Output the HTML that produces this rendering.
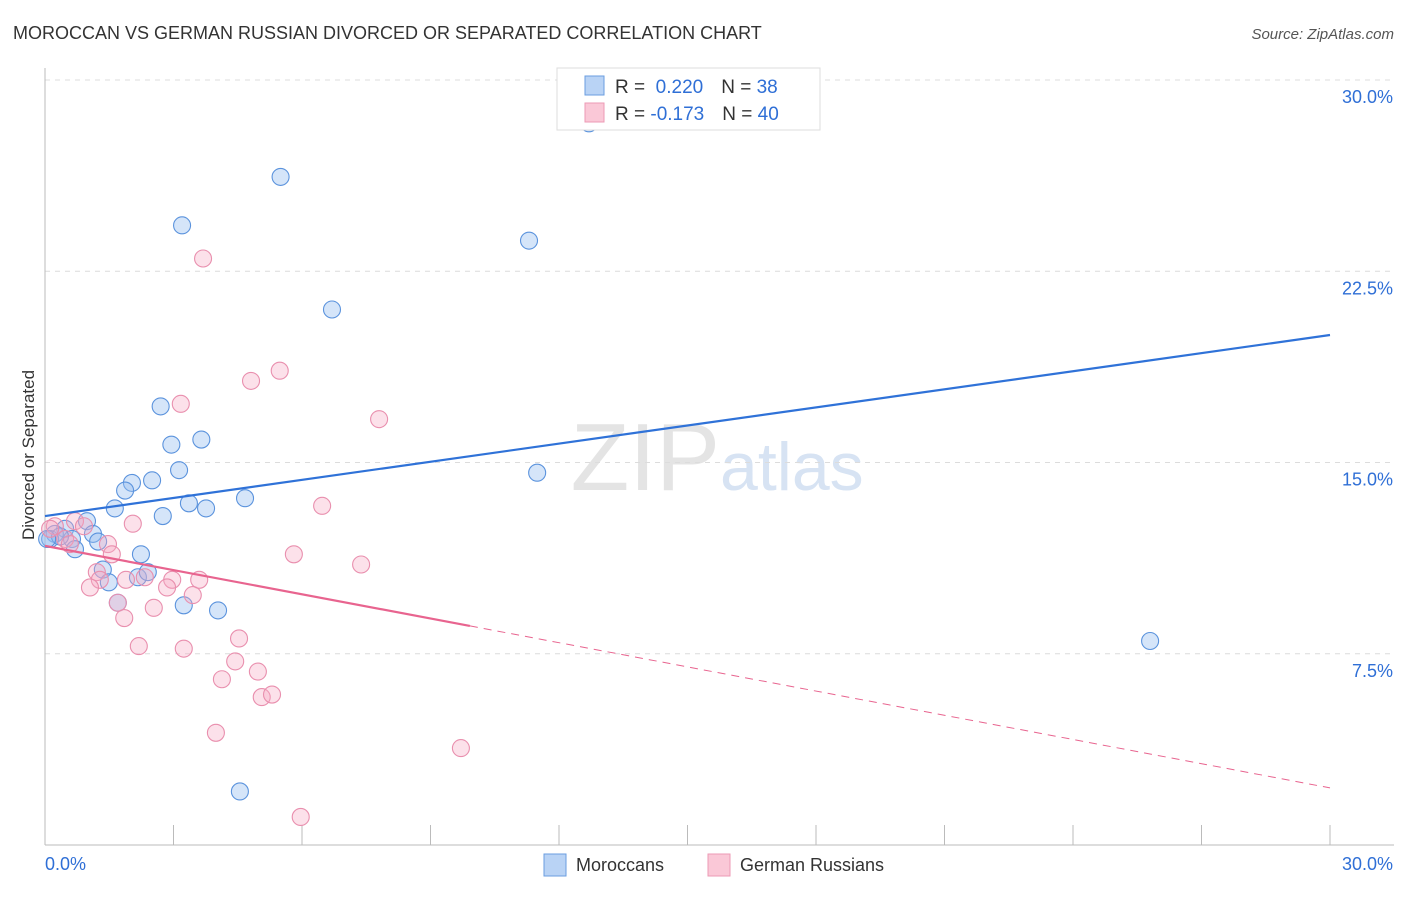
<!DOCTYPE html>
<html><head><meta charset="utf-8"><style>
body{margin:0;background:#fff;font-family:"Liberation Sans",sans-serif;}
svg text{font-family:"Liberation Sans",sans-serif;}
</style></head><body>
<svg id="chart" width="1406" height="892" xmlns="http://www.w3.org/2000/svg">
<text x="13" y="39" font-size="18" fill="#333">MOROCCAN VS GERMAN RUSSIAN DIVORCED OR SEPARATED CORRELATION CHART</text>
<text x="1394" y="39" font-size="15" fill="#555" text-anchor="end" font-style="italic">Source: ZipAtlas.com</text>
<text x="720" y="490" font-size="96" fill="#e4e4e4" text-anchor="end" font-family="Liberation Serif">ZIP</text>
<text x="720" y="490" font-size="68" fill="#d7e3f3">atlas</text>
<g id="grid"></g>
<g id="axes"></g>
<g id="pts"></g>
<g id="lines"></g>
<text transform="translate(34,455) rotate(-90)" font-size="17" fill="#333" text-anchor="middle">Divorced or Separated</text>
<g>
<rect x="557" y="68" width="263" height="62" fill="#fff" stroke="#ddd"/>
<rect x="585" y="76" width="19" height="19" fill="#b9d3f5" stroke="#6a9ee0"/>
<rect x="585" y="103" width="19" height="19" fill="#fac8d7" stroke="#ec9ab4"/>
<text x="615" y="93" font-size="19" fill="#333">R = <tspan fill="#2f6fd6">&#160;0.220</tspan><tspan dx="18">N = </tspan><tspan fill="#2f6fd6"> 38</tspan></text>
<text x="615" y="120" font-size="19" fill="#333">R = <tspan fill="#2f6fd6">-0.173</tspan><tspan dx="18">N = </tspan><tspan fill="#2f6fd6"> 40</tspan></text>
</g>
<g>
<rect x="544" y="854" width="22" height="22" fill="#b9d3f5" stroke="#6a9ee0"/>
<text x="576" y="871" font-size="18" fill="#333">Moroccans</text>
<rect x="708" y="854" width="22" height="22" fill="#fac8d7" stroke="#ec9ab4"/>
<text x="740" y="871" font-size="18" fill="#333">German Russians</text>
</g>
</svg>
<script>
const yTicks=[7.5,15,22.5,30];
const yTickLabels=["7.5%","15.0%","22.5%","30.0%"];
const xTicks=[0,3,6,9,12,15,18,21,24,27,30];
const xTickLabels=["0.0%","30.0%"];
const moroccanX=[12.7,5.5,3.2,11.3,6.7,2.7,2.95,3.65,3.13,2.5,2.03,1.87,1.63,3.36,3.76,4.67,2.75,0.98,0.47,0.23,0.12,0.63,1.12,1.24,0.7,2.24,1.35,1.49,2.17,2.4,1.7,3.24,4.04,11.49,25.8,4.55,0.35,0.05];
const moroccanY=[28.3,26.2,24.3,23.7,21.0,17.2,15.7,15.9,14.7,14.3,14.2,13.9,13.2,13.4,13.2,13.6,12.9,12.7,12.4,12.2,12.0,12.0,12.2,11.9,11.6,11.4,10.8,10.3,10.5,10.7,9.5,9.4,9.2,14.6,8.0,2.1,12.1,12.0];
const germanX=[3.69,5.48,4.81,3.17,7.8,6.47,2.05,0.7,0.23,1.47,1.56,5.81,7.38,1.21,1.28,1.05,1.89,2.97,2.85,3.6,3.45,2.33,2.54,1.7,1.85,4.53,2.19,3.24,4.44,4.97,4.13,5.06,5.3,3.99,9.71,5.97,0.12,0.47,0.91,0.58];
const germanY=[23.0,18.6,18.2,17.3,16.7,13.3,12.6,12.7,12.5,11.8,11.4,11.4,11.0,10.7,10.4,10.1,10.4,10.4,10.1,10.4,9.8,10.5,9.3,9.5,8.9,8.1,7.8,7.7,7.2,6.8,6.5,5.8,5.9,4.4,3.8,1.1,12.4,12.0,12.5,11.8];
const trendStartX=[0,0];
const trendEndX=[30,30];
const trendStartY=[12.9,11.73];
const trendEndY=[20.0,2.24];
const solidEndX=9.92;
const NS="http://www.w3.org/2000/svg";
const X0=45,X1=1330,YB=845,YT=80;
const sx=v=>X0+(v/30)*(X1-X0);
const sy=v=>YB-(v/30)*(YB-YT);
function mk(tag,attrs,parent){const e=document.createElementNS(NS,tag);for(const k in attrs)e.setAttribute(k,attrs[k]);parent.appendChild(e);return e;}
const grid=document.getElementById('grid'),axes=document.getElementById('axes'),pts=document.getElementById('pts'),lines=document.getElementById('lines');
yTicks.forEach((t,i)=>{
 const l=mk('line',{x1:X0,x2:1394,y1:sy(t),y2:sy(t),stroke:'#dcdcdc','stroke-dasharray':'5,5'},grid);
 
 
 const tx=mk('text',{x:1393,y:sy(t)+23,'font-size':18,fill:'#2f6fd6','text-anchor':'end'},axes);
 tx.textContent=yTickLabels[i];
 
 
});
const ax=mk('line',{x1:X0,x2:X0,y1:68,y2:YB,stroke:'#bbb'},axes);


const bx=mk('line',{x1:X0,x2:1394,y1:YB,y2:YB,stroke:'#bbb'},axes);


xTicks.forEach(t=>{
 const l=mk('line',{x1:sx(t),x2:sx(t),y1:825,y2:YB,stroke:'#bbb'},axes);
 
 
});
const xl0=mk('text',{x:45,y:870,'font-size':18,fill:'#2f6fd6'},axes);
xl0.textContent=xTickLabels[0];


const xl1=mk('text',{x:1393,y:870,'font-size':18,fill:'#2f6fd6','text-anchor':'end'},axes);
xl1.textContent=xTickLabels[1];


moroccanX.forEach((x,i)=>{
 const c=mk('circle',{cx:sx(x),cy:sy(moroccanY[i]),r:8.5,fill:'rgba(150,190,240,0.4)',stroke:'#5b93dd','stroke-width':1.1},pts);
 
 
});
germanX.forEach((x,i)=>{
 const c=mk('circle',{cx:sx(x),cy:sy(germanY[i]),r:8.5,fill:'rgba(245,170,195,0.35)',stroke:'#e98fae','stroke-width':1.1},pts);
 
 
});
const lineY=(i,x)=>trendStartY[i]+(trendEndY[i]-trendStartY[i])*(x-trendStartX[i])/(trendEndX[i]-trendStartX[i]);
const bl=mk('line',{x1:sx(trendStartX[0]),y1:sy(trendStartY[0]),x2:sx(trendEndX[0]),y2:sy(trendEndY[0]),stroke:'#2f72d8','stroke-width':2.2},lines);


const pl=mk('line',{x1:sx(trendStartX[1]),y1:sy(trendStartY[1]),x2:sx(solidEndX),y2:sy(lineY(1,solidEndX)),stroke:'#e8648f','stroke-width':2.2},lines);


const pd=mk('line',{x1:sx(solidEndX),y1:sy(lineY(1,solidEndX)),x2:sx(trendEndX[1]),y2:sy(trendEndY[1]),stroke:'#e8648f','stroke-width':1,'stroke-dasharray':'8,6'},lines);


</script>
</body></html>
